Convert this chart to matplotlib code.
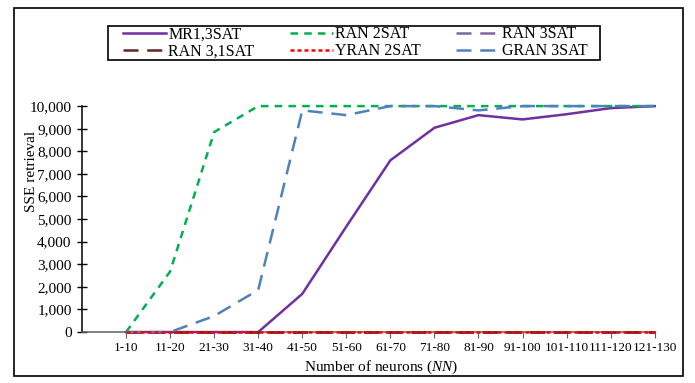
import matplotlib.pyplot as plt
from matplotlib.patches import Rectangle

plt.rcParams['font.family'] = ['Liberation Serif', 'DejaVu Serif']
plt.rcParams['mathtext.fontset'] = 'custom'
plt.rcParams['mathtext.it'] = 'Liberation Serif:italic'
plt.rcParams['mathtext.rm'] = 'Liberation Serif'

# neuron ranges on the x axis
categories = ['1-10', '11-20', '21-30', '31-40', '41-50', '51-60', '61-70',
              '71-80', '81-90', '91-100', '101-110', '111-120', '121-130']

mr13sat = [0, 0, 0, 0, 1690, 4670, 7600, 9040, 9600, 9410, 9640, 9910, 10000]
ran2sat = [0, 2680, 8850, 10000, 10000, 10000, 10000, 10000, 10000, 10000, 10000, 10000, 10000]
ran3sat = [0] * 13
ran31sat = [0] * 13
yran2sat = [0] * 13
gran3sat = [0, 0, 710, 1860, 9810, 9600, 10000, 10000, 9810, 10000, 10000, 10000, 10000]

x = list(range(len(categories)))

fig = plt.figure(figsize=(6.95, 3.83), dpi=100)
ax = fig.add_axes([0.118, 0.133, 0.824, 0.590])

kw = dict(lw=1.8, clip_on=False, zorder=3)
l_mr, = ax.plot(x, mr13sat, color='#7030A0', **kw)
l_r2, = ax.plot(x, ran2sat, color='#00B050', dashes=(3, 2.5), **kw)
l_r3, = ax.plot(x, ran3sat, color='#8064A2', dashes=(6, 3.5), **kw)
l_r31, = ax.plot(x, ran31sat, color='#632523', dashes=(6, 3.5), **kw)
l_gr, = ax.plot(x, gran3sat, color='#4F81BD', dashes=(6, 3.5), **kw)
l_yr, = ax.plot(x, yran2sat, color='#FF0000', dashes=(1.6, 1.2), **kw)

ax.set_xlim(-1, 12)
ax.set_ylim(0, 10000)
ax.set_xticks(x)
ax.set_xticklabels(categories, fontsize=9.5)
ax.set_yticks(range(0, 10001, 1000))
ax.set_yticklabels([f'{v:,}' for v in range(0, 10001, 1000)], fontsize=11)
ax.tick_params(axis='y', direction='inout', length=7, width=1, pad=4)
ax.tick_params(axis='x', direction='out', length=4, width=0.8, color='#606060', pad=3)

for s in ['top', 'right']:
    ax.spines[s].set_visible(False)
ax.spines['left'].set_linewidth(1.1)
ax.spines['bottom'].set_color('#606060')
ax.spines['bottom'].set_linewidth(1.1)

fig.text(0.046, 0.553, 'SSE retrieval', rotation=90, ha='center', va='center', fontsize=11)
fig.text(0.548, 0.042, 'Number of neurons ($NN$)', ha='center', va='center', fontsize=11)

fig.legend([l_mr, l_r31, l_r2, l_yr, l_r3, l_gr],
           ['MR1,3SAT', 'RAN 3,1SAT', 'RAN 2SAT', 'YRAN 2SAT', 'RAN 3SAT', 'GRAN 3SAT'],
           ncol=3, loc='center', bbox_to_anchor=(0.511, 0.888), fontsize=11.5,
           frameon=False, borderpad=0.25,
           handlelength=2.7, columnspacing=2.2, labelspacing=0.05, handletextpad=0.15)

# legend box and outer border drawn by hand
fig.patches.append(Rectangle((0.1554, 0.8433), 0.708, 0.0888, transform=fig.transFigure,
                             fill=False, edgecolor='black', lw=1.2))
fig.patches.append(Rectangle((0.020, 0.018), 0.963, 0.962, transform=fig.transFigure,
                             fill=False, edgecolor='black', lw=1.2))

fig.savefig('out.png', dpi=100)
